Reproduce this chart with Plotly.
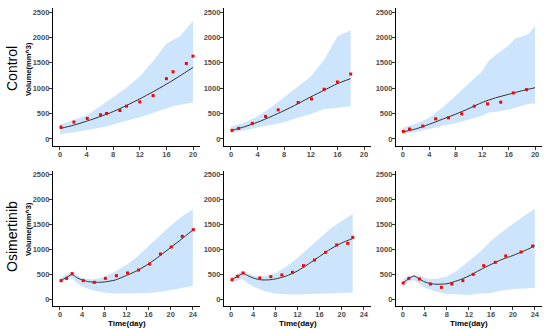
import plotly.graph_objects as go

# ---------------- data ----------------
row_labels = ["Control", "Osimertinib"]
x_ticks_top = [0, 4, 8, 12, 16, 20]
x_ticks_bottom = [0, 4, 8, 12, 16, 20, 24]
y_ticks = [0, 500, 1000, 1500, 2000, 2500]

# Panel 1 (Control, col 1)
p1_band_x = [0, 2, 4, 6, 7, 8, 10, 12, 14, 16, 17, 18, 19, 20]
p1_upper = [280, 370, 470, 640, 740, 820, 1010, 1230, 1530, 1880, 1945, 2020, 2170, 2330]
p1_lower = [100, 130, 170, 220, 250, 280, 360, 430, 510, 600, 650, 670, 700, 720]
p1_fit_x = [0, 2, 4, 6, 8, 10, 12, 14, 16, 18, 20]
p1_fit = [205, 270, 350, 440, 540, 660, 790, 930, 1080, 1240, 1410]
p1_obs_x = [0.15, 2.1, 4.1, 6.1, 7, 9, 10, 12, 14, 16, 17, 19, 20]
p1_obs = [235, 333, 405, 476, 503, 561, 646, 731, 855, 1188, 1325, 1488, 1632]

# Panel 2 (Control, col 2)
p2_band_x = [0, 2, 4, 6, 8, 10, 12, 14, 16, 18]
p2_upper = [240, 320, 450, 620, 820, 1030, 1230, 1560, 2020, 2140]
p2_lower = [120, 170, 230, 280, 330, 420, 490, 590, 610, 650]
p2_fit_x = [0, 2, 4, 6, 8, 10, 12, 14, 16, 18]
p2_fit = [165, 240, 330, 440, 560, 690, 830, 960, 1090, 1190]
p2_obs_x = [0.15, 1.15, 3.2, 5.2, 7.1, 10.1, 12.1, 14, 16, 18]
p2_obs = [170, 209, 307, 444, 574, 718, 790, 979, 1123, 1279]

# Panel 3 (Control, col 3)
p3_band_x = [0, 2, 4, 5, 6, 8, 10, 12, 13, 14, 16, 17, 18, 19, 20]
p3_upper = [220, 300, 420, 520, 620, 850, 1100, 1340, 1540, 1650, 1840, 1980, 2020, 2070, 2220]
p3_lower = [100, 140, 200, 230, 260, 310, 380, 460, 520, 530, 580, 610, 650, 690, 700]
p3_fit_x = [0, 2, 4, 6, 8, 10, 12, 14, 16, 18, 20]
p3_fit = [140, 200, 290, 390, 490, 600, 720, 810, 880, 950, 1010]
p3_obs_x = [0.05, 1, 3, 4.95, 6.9, 8.9, 10.8, 12.8, 14.8, 16.7, 18.7]
p3_obs = [150, 196, 255, 398, 418, 496, 646, 692, 725, 907, 973]

# Panel 4 (Osimertinib, col 1)
p4_band_x = [0, 1, 2, 3, 4, 6, 8, 10, 12, 14, 16, 18, 20, 22, 24]
p4_upper = [420, 480, 540, 480, 420, 390, 440, 550, 680, 850, 1060, 1280, 1470, 1650, 1790]
p4_lower = [320, 370, 430, 330, 250, 170, 130, 110, 110, 115, 120, 140, 180, 220, 260]
p4_fit_x = [0, 1, 2.2, 3, 4, 5, 6, 7, 8, 10, 12, 14, 16, 18, 20, 22, 24]
p4_fit = [360, 420, 490, 430, 380, 350, 337, 333, 340, 380, 470, 570, 700, 860, 1030, 1200, 1380]
p4_obs_x = [0.2, 1.2, 2.2, 4.2, 6.2, 8.2, 10.2, 12.2, 14.2, 16.2, 18.15, 20.1, 22.1, 24.1]
p4_obs = [367, 413, 507, 367, 333, 413, 467, 520, 580, 700, 900, 1040, 1253, 1387]

# Panel 5 (Osimertinib, col 2)
p5_band_x = [0, 1, 2, 3, 4, 5, 6, 8, 10, 12, 14, 16, 18, 20, 22]
p5_upper = [430, 490, 560, 520, 470, 450, 450, 520, 640, 820, 1020, 1230, 1410, 1560, 1700]
p5_lower = [320, 360, 400, 320, 250, 200, 160, 110, 90, 90, 100, 100, 110, 120, 130]
p5_fit_x = [0, 1, 2.2, 3, 4, 5, 6, 7, 8, 10, 12, 14, 16, 18, 20, 22]
p5_fit = [380, 440, 510, 470, 420, 390, 380, 385, 400, 460, 560, 700, 850, 1000, 1120, 1210]
p5_obs_x = [0.2, 1.2, 2.2, 5.2, 7.2, 9.2, 11.1, 13.1, 15.1, 17.1, 19.1, 21.1, 22]
p5_obs = [387, 453, 520, 420, 447, 480, 533, 667, 780, 933, 1080, 1113, 1233]

# Panel 6 (Osimertinib, col 3)
p6_band_x = [0, 1, 2, 3, 4, 5, 6, 8, 10, 12, 14, 16, 18, 20, 22, 24]
p6_upper = [390, 450, 480, 470, 420, 400, 400, 450, 580, 760, 940, 1160, 1340, 1500, 1660, 1800]
p6_lower = [270, 340, 380, 300, 220, 180, 150, 100, 90, 80, 110, 120, 170, 200, 210, 220]
p6_fit_x = [0, 1, 2, 3, 4, 5, 6, 8, 10, 12, 14, 16, 18, 20, 22, 24]
p6_fit = [320, 400, 460, 400, 340, 310, 295, 305, 370, 460, 580, 690, 790, 870, 960, 1060]
p6_obs_x = [0.05, 1.07, 3, 5, 7, 8.9, 10.9, 12.8, 14.7, 16.8, 18.7, 21.5, 23.6]
p6_obs = [320, 413, 400, 300, 233, 300, 367, 493, 667, 733, 860, 940, 1060]

panels = [
    (p1_band_x, p1_upper, p1_lower, p1_fit_x, p1_fit, p1_obs_x, p1_obs),
    (p2_band_x, p2_upper, p2_lower, p2_fit_x, p2_fit, p2_obs_x, p2_obs),
    (p3_band_x, p3_upper, p3_lower, p3_fit_x, p3_fit, p3_obs_x, p3_obs),
    (p4_band_x, p4_upper, p4_lower, p4_fit_x, p4_fit, p4_obs_x, p4_obs),
    (p5_band_x, p5_upper, p5_lower, p5_fit_x, p5_fit, p5_obs_x, p5_obs),
    (p6_band_x, p6_upper, p6_lower, p6_fit_x, p6_fit, p6_obs_x, p6_obs),
]

# ---------------- layout ----------------
W, H = 550, 329
col_px = [(53, 200), (224, 371), (396, 542)]
row_px = [(8, 146), (171, 306)]

fig = go.Figure()
tick_font = dict(family="Liberation Sans, Arial", size=7.5, color="#4d4d4d", weight="bold")

for i, (bx, up, lo, fx, fy, ox, oy) in enumerate(panels):
    r, c = divmod(i, 3)
    n = i + 1
    xa = "x" if n == 1 else f"x{n}"
    ya = "y" if n == 1 else f"y{n}"
    fig.add_trace(go.Scatter(
        x=list(bx) + list(bx)[::-1], y=list(up) + list(lo)[::-1],
        fill="toself", fillcolor="rgb(204,228,252)", line=dict(width=0),
        mode="lines", hoverinfo="skip", showlegend=False, xaxis=xa, yaxis=ya))
    fig.add_trace(go.Scatter(
        x=fx, y=fy, mode="lines", line=dict(color="#333333", width=1, shape="spline", smoothing=0.6),
        showlegend=False, xaxis=xa, yaxis=ya))
    fig.add_trace(go.Scatter(
        x=ox, y=oy, mode="markers", marker=dict(color="#ff0000", size=3, symbol="square"),
        showlegend=False, xaxis=xa, yaxis=ya))

    x0, x1 = col_px[c]
    y0, y1 = row_px[r]
    xticks = x_ticks_top if r == 0 else x_ticks_bottom
    xrange = [-1.05, 21.05] if r == 0 else [-1.26, 25.3]
    common = dict(showline=True, linecolor="black", linewidth=1.3, ticks="outside",
                  ticklen=3, tickwidth=1, tickcolor="#333333", showgrid=False,
                  zeroline=False, tickfont=tick_font, automargin=False,
                  ticklabelstandoff=-2)
    xkey = "xaxis" if n == 1 else f"xaxis{n}"
    ykey = "yaxis" if n == 1 else f"yaxis{n}"
    fig.layout[xkey] = dict(domain=[x0 / W, x1 / W], anchor=ya, range=xrange,
                            tickvals=xticks, **common)
    fig.layout[ykey] = dict(domain=[1 - y1 / H, 1 - y0 / H], anchor=xa,
                            range=[-138, 2580] if r == 0 else [-140, 2560],
                            tickvals=y_ticks, **common)
    if r == 1:
        fig.add_annotation(text="<b>Time(day)</b>", xref="paper", yref="paper",
                           x=(x0 + x1) / 2 / W, y=1 - 323 / H, showarrow=False,
                           xanchor="center", yanchor="middle",
                           font=dict(family="Liberation Sans, Arial", size=8, color="black"))

for r, lab in enumerate(row_labels):
    cy = 69 if r == 0 else 237
    fig.add_annotation(text=lab, xref="paper", yref="paper", x=12 / W, y=1 - cy / H,
                       textangle=-90, showarrow=False, xanchor="center", yanchor="middle",
                       font=dict(family="Liberation Sans, Arial", size=14, color="black"))
    fig.add_annotation(text="<b>Volume(mm^3)</b>", xref="paper", yref="paper",
                       x=28 / W, y=1 - (69 if r == 0 else 229) / H,
                       textangle=-90, showarrow=False, xanchor="center", yanchor="middle",
                       font=dict(family="Liberation Sans, Arial", size=7.5, color="black"))

fig.update_layout(width=W, height=H, margin=dict(l=0, r=0, t=0, b=0, autoexpand=False),
                  plot_bgcolor="white", paper_bgcolor="white")
fig.write_html("out.html", config={"displayModeBar": False},
               post_script="document.body.style.margin='0';document.body.style.padding='0';")
